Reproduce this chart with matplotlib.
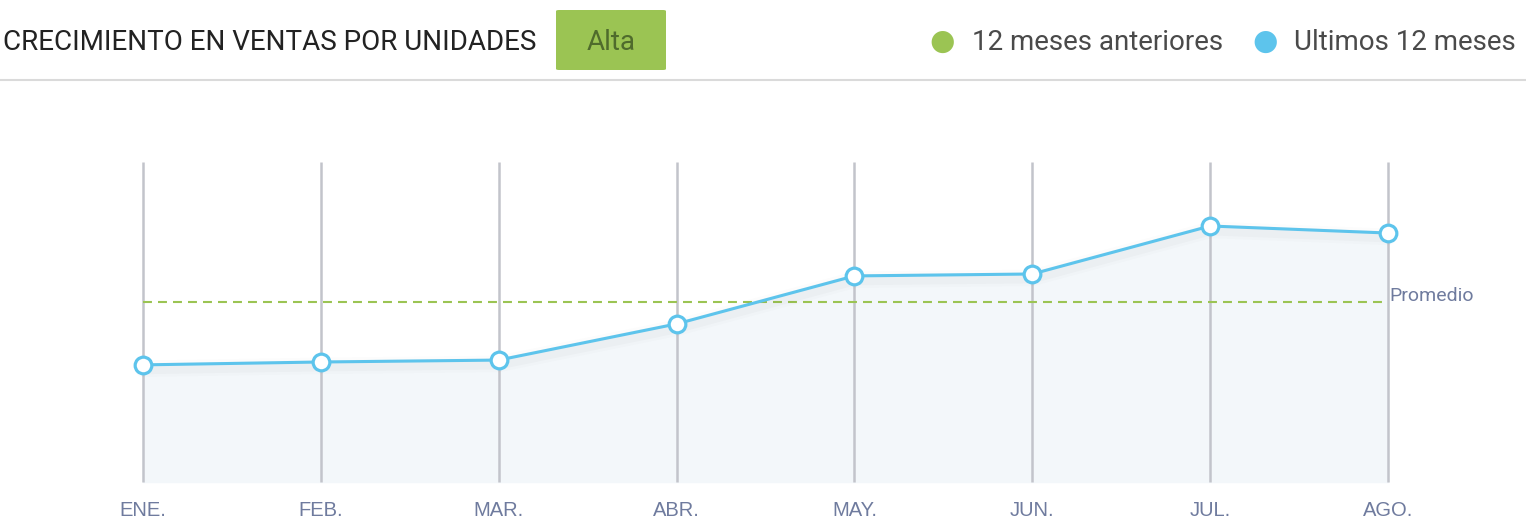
import numpy as np
import matplotlib.pyplot as plt
from matplotlib.patches import FancyBboxPatch

# ---------------------------------
# data
# ---------------------------------
months = ["ENE.", "FEB.", "MAR.", "ABR.", "MAY.", "JUN.", "JUL.", "AGO."]
ultimos = [36.6, 37.5, 38.1, 49.4, 64.4, 65.0, 80.0, 77.8]
promedio = 56.2

title = "CRECIMIENTO EN VENTAS POR UNIDADES"
badge = "Alta"
legend_labels = ["12 meses anteriores", "Ultimos 12 meses"]

GREEN = "#9bc453"
BLUE = "#5dc4ec"
LABEL = "#6f7b9e"

W, H = 1526, 532
fig = plt.figure(figsize=(W / 100, H / 100), dpi=100)

def fx(px):
    return px / W

def fy(py):
    return 1 - py / H

# ---------------------------------
# header
# ---------------------------------
fig.text(fx(3), fy(42), title, fontsize=20, family="Roboto", color="#222222",
         va="center", ha="left")

fig.patches.append(FancyBboxPatch((fx(556), fy(70)), fx(110), 60 / H,
                                  boxstyle="round,pad=0,rounding_size=0.002",
                                  transform=fig.transFigure, facecolor=GREEN,
                                  edgecolor="none"))
fig.text(fx(611), fy(43), badge, fontsize=20, family="Roboto", color="#4f6b2c",
         va="center", ha="center")

legend_pos = [(942, 972, GREEN), (1265, 1294, BLUE)]
for (cx, tx, col), lab in zip(legend_pos, legend_labels):
    fig.text(fx(tx), fy(43), lab, fontsize=20, family="Roboto", color="#4a4a4a",
             va="center", ha="left")
    fig.text(fx(cx), fy(42), "\u25CF", fontsize=21, color=col, va="center",
             ha="center", family="DejaVu Sans")

fig.add_artist(plt.Line2D([0, 1], [fy(80), fy(80)], transform=fig.transFigure,
                          color="#dadada", lw=1.5))

# ---------------------------------
# chart
# ---------------------------------
ax = fig.add_axes([fx(143), fy(482), fx(1388) - fx(143), 320 / H])
x = np.arange(len(months))

ax.fill_between(x, 0, ultimos, color="#f3f7fa", zorder=1)
ax.vlines(x, 0, 100, color="#c2c4cb", lw=1.8, zorder=2)
ax.plot([x[0], x[-1]], [promedio, promedio], color=GREEN, lw=1.5,
        dashes=(4.3, 2.9), zorder=3)

# soft shadow under the line
for w, a in [(12, 0.012), (8, 0.018)]:
    ax.plot(x, np.array(ultimos) - 1.2, color="#000000", alpha=a, lw=w,
            solid_capstyle="round", zorder=3)
ax.plot(x, ultimos, color=BLUE, lw=2.2, marker="o", markersize=12,
        markerfacecolor="white", markeredgecolor=BLUE, markeredgewidth=2.3,
        zorder=4)

ax.text(x[-1] + 0.005, promedio + 1.8, "Promedio", fontsize=14, family="Roboto",
        color=LABEL, ha="left", va="center")

ax.set_xlim(0, len(months) - 1)
ax.set_ylim(0, 100)
ax.set_xticks(x, months)
ax.tick_params(axis="x", length=0, pad=14, labelsize=14.5, labelcolor=LABEL)
for t in ax.get_xticklabels():
    t.set_family("Liberation Sans")
ax.set_yticks([])
for s in ax.spines.values():
    s.set_visible(False)
ax.patch.set_alpha(0)
for a in ax.get_children():
    if hasattr(a, "set_clip_on"):
        a.set_clip_on(False)

fig.savefig("out.png", dpi=100)
